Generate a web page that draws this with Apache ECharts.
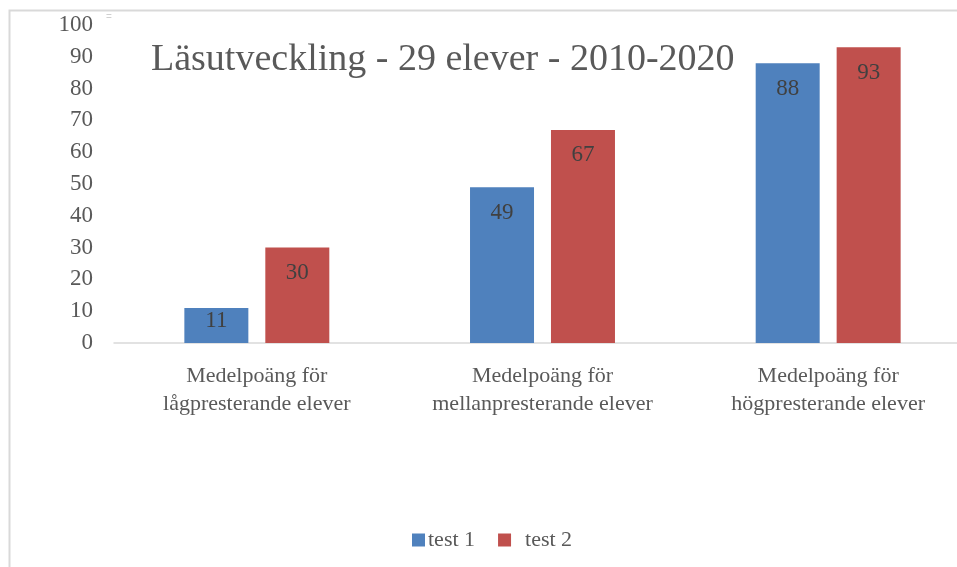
<!DOCTYPE html>
<html><head><meta charset="utf-8">
<script src="https://cdn.jsdelivr.net/npm/echarts@6/dist/echarts.min.js"></script>
<style>html,body{margin:0;padding:0;background:#fff;overflow:hidden}#c{width:971px;height:567px}</style>
</head><body><div id="c"></div>
<script>
const categories = ['Medelpoäng för\nlågpresterande elever', 'Medelpoäng för\nmellanpresterande elever', 'Medelpoäng för\nhögpresterande elever'];
const test1 = [11, 49, 88];
const test2 = [30, 67, 93];
const seriesNames = ['test 1', 'test 2'];
const titleText = 'Läsutveckling - 29 elever - 2010-2020';

const FONT = '"Liberation Serif", "DejaVu Serif", serif';
const TXT = '#595959';
function items(arr){ return arr.map(v => ({value: v, label: {distance: v < 20 ? 1 : 14}})); }
const chart = echarts.init(document.getElementById('c'));
chart.setOption({
  animation: false,
  textStyle: {fontFamily: FONT},
  title: {text: titleText, left: 146, top: 36, textStyle: {fontFamily: FONT, fontSize: 38, fontWeight: 'normal', color: TXT}},
  graphic: [
    {type: 'rect', shape: {x: 9.5, y: 10.5, width: 1000, height: 600}, style: {fill: 'none', stroke: '#d9d9d9', lineWidth: 2}, silent: true},
    {type: 'text', left: 106, top: 12, style: {text: '=', fill: '#d0d0d0', font: '10px sans-serif'}}
  ],
  legend: {data: [{name: seriesNames[0]}, {name: seriesNames[1], textStyle: {padding: [0, 0, 0, 9]}}],
    left: 407, top: 524, itemWidth: 13, itemHeight: 13, itemGap: 23, icon: 'rect',
    textStyle: {fontFamily: FONT, fontSize: 22, color: TXT, padding: [0, 0, 0, -2]}},
  grid: {left: 114, top: 25, right: 0, bottom: 224, containLabel: false},
  xAxis: {type: 'category', data: categories,
    axisLine: {lineStyle: {color: '#d9d9d9', width: 1.5}}, axisTick: {show: false},
    axisLabel: {fontFamily: FONT, fontSize: 22, color: TXT, lineHeight: 28, margin: 19, interval: 0}},
  yAxis: {type: 'value', min: 0, max: 100, interval: 10,
    axisLine: {show: false}, axisTick: {show: false}, splitLine: {show: false},
    axisLabel: {fontFamily: FONT, fontSize: 23, color: TXT, margin: 21}},
  series: [
    {name: seriesNames[0], type: 'bar', data: items(test1), barWidth: 64, barGap: '26.5%', itemStyle: {color: '#4F81BD'},
      label: {show: true, position: 'insideTop', fontFamily: FONT, fontSize: 23, color: '#404040'}},
    {name: seriesNames[1], type: 'bar', data: items(test2), barWidth: 64, itemStyle: {color: '#C0504D'},
      label: {show: true, position: 'insideTop', fontFamily: FONT, fontSize: 23, color: '#404040'}}
  ]
});
</script></body></html>
